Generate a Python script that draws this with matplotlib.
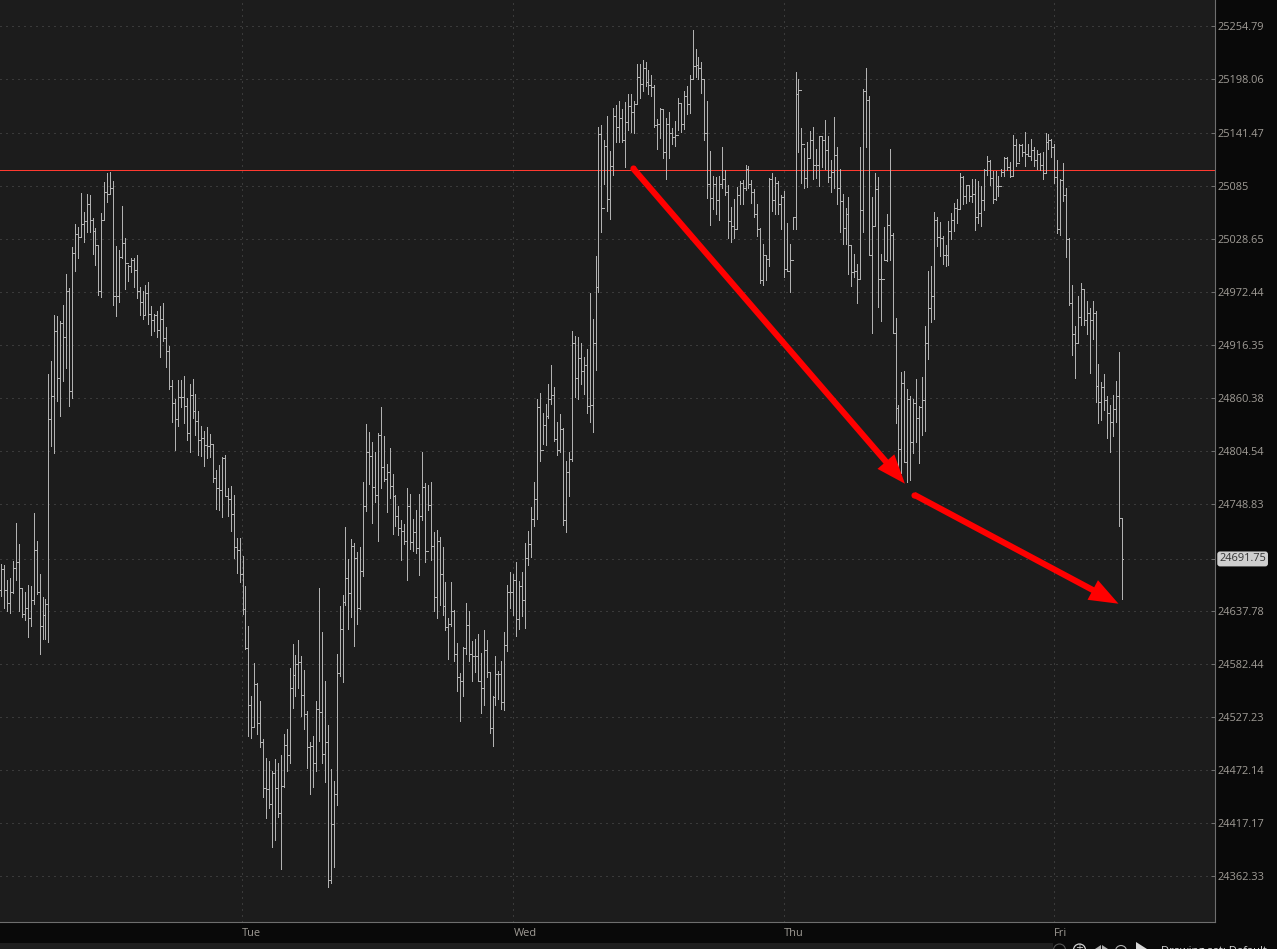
import matplotlib
matplotlib.use("Agg")
import matplotlib.pyplot as plt
from matplotlib.patches import Rectangle, Circle
from matplotlib.ticker import NullLocator

highs = [
24674,24686,24685,24670,24672,24690,24729,24707,24661,24657,24665,24664,24740,24711,24676,24652,24650,
24886,24900,24948,24947,24942,24959,24991,24977,25020,25044,25041,25077,25057,25076,25075,25051,25040,25022,25056,25089,25098,25100,25090,25021,25017,25063,25029,25001,25008,25008,25011,
24978,24973,24980,24983,24958,24949,24952,24958,24961,24935,24915,24879,24859,24880,24879,24884,24861,24875,24881,24865,24847,24831,24826,24830,24823,24812,24785,24790,24799,24801,24766,24768,24759,
24714,24714,24695,24663,24622,24549,24583,24562,24544,24504,24485,24481,24471,24484,24479,24488,24509,24515,24578,24603,24592,24607,
24590,24576,24533,24501,24507,24544,24661,24615,24564,24519,24473,24461,24593,24643,24654,
24725,24692,24713,24708,24699,24704,24772,24833,24825,24814,24804,24824,24851,24821,24791,24808,24781,24759,24747,24732,24728,24766,24760,24734,24743,24760,24804,24771,24769,24772,
24720,24722,24715,24704,24668,24630,24668,24638,24604,24573,24600,24646,24637,24606,24608,24613,24594,24618,24607,24573,24549,24590,24575,24585,24615,24665,24678,24676,24689,24669,24678,24708,24721,24746,24772,
24859,24866,24845,24854,24875,24895,24872,24835,24844,24829,24794,24804,24931,24926,24925,24918,24904,24912,24971,24944,25010,
25147,25149,25134,25159,25122,25168,25171,25175,25167,25174,25183,25183,25175,25214,25215,25219,25217,25208,25203,25192,25156,25168,25167,25157,25163,25146,25154,25178,25173,25186,25191,25203,25251,25230,25222,25217,25198,25175,25122,25095,25094,25095,25126,25102,25086,25062,25071,25084,25090,25091,25107,25106,25091,25081,25066,25040,25023,25011,25093,25098,25094,25090,25075,25079,25045,25023,25052,25206,25198,25146,25125,25131,25143,25147,25124,25138,25138,25155,25138,25112,25158,25126,25103,25076,25061,25073,25022,25013,25002,25126,25188,25210,25180,25073,25098,25094,
25013,25041,25055,25124,25035,24945,24853,24888,24889,24870,24863,24860,24881,24852,24883,24936,24995,25000,25057,25052,25046,25032,25022,25047,25056,25067,25071,25098,25095,25086,25086,25092,25092,25090,25085,25103,25116,25112,25101,25101,25095,25103,25115,25115,25110,25139,25135,25129,25129,25142,25129,25135,25126,25123,25120,25121,25141,25140,25135,25129,25112,25092,25109,25082,25029,24980,24936,24968,24982,24976,24963,24955,24963,24952,24896,24877,24886,24863,24853,24864,24878,24909,24735,
]
lows = [
24633,24653,24641,24637,24635,24656,24670,24637,24631,24628,24610,24622,24645,24655,24593,24608,24608,
24605,24810,24803,24857,24842,24878,24892,24852,24861,24995,25008,25031,25025,25036,25036,25013,25001,24969,24967,25049,25068,25076,24959,24947,24962,25008,24976,24984,24993,24978,24966,
24948,24944,24948,24939,24927,24931,24925,24904,24921,24893,24870,24835,24806,24831,24851,24834,24816,24804,24839,24822,24801,24800,24789,24797,24799,24772,24744,24743,24736,24758,24737,24721,24693,
24677,24668,24634,24598,24507,24505,24517,24509,24496,24444,24422,24433,24393,24400,24423,24370,24455,24471,24479,24536,24549,24557,
24528,24515,24474,24447,24455,24471,24502,24479,24460,24351,24355,24372,24436,24570,24563,
24644,24619,24631,24601,24624,24640,24674,24742,24770,24729,24751,24710,24766,24773,24741,24756,24718,24726,24717,24691,24707,24670,24702,24700,24698,24675,24732,24689,24743,24691,
24637,24630,24644,24633,24618,24587,24622,24585,24554,24523,24549,24593,24585,24565,24574,24564,24531,24540,24569,24510,24497,24540,24546,24535,24534,24596,24641,24633,24611,24619,24632,24620,24685,24694,24726,
24734,24794,24812,24811,24839,24854,24815,24801,24804,24727,24720,24758,24794,24862,24859,24875,24865,24845,24835,24825,24890,
24972,25036,25087,25058,25050,25096,25131,25131,25131,25105,25144,25142,25141,25172,25178,25186,25191,25183,25180,25147,25124,25136,25114,25092,25114,25129,25127,25144,25142,25145,25161,25162,25199,25201,25199,25184,25134,25072,25043,25060,25055,25049,25082,25075,25029,25025,25030,25040,25066,25066,25080,25083,25067,25052,25032,24982,24980,24985,25000,25058,25055,25055,25039,24988,24995,24972,25039,25039,25121,25088,25082,25084,25114,25092,25093,25085,25105,25103,25089,25078,25083,25066,25036,25023,25023,24991,24979,24988,24961,24986,25036,25126,25011,24929,25042,24956,
24942,25006,25005,25006,24929,24834,24788,24782,24793,24772,24774,24803,24814,24792,24822,24826,24902,24941,24944,25021,25010,25002,25000,25001,25028,25037,25045,25060,25066,25067,25069,25068,25038,25045,25042,25059,25096,25086,25067,25070,25074,25095,25095,25102,25094,25096,25106,25111,25117,25106,25116,25112,25106,25103,25102,25092,25098,25124,25115,25088,25035,25033,25069,25009,24959,24906,24882,24918,24937,24937,24928,24887,24923,24856,24834,24837,24848,24818,24804,24821,24835,24726,24650,
]
closes = [
24659,24681,24659,24646,24657,24682,24689,24661,24634,24641,24630,24649,24701,24657,24622,24633,24645,
24838,24863,24931,24882,24940,24925,24973,24868,25014,25034,25031,25044,25047,25066,25049,25037,25022,24973,25049,25078,25076,25083,24968,24968,25009,25024,25003,25000,25006,24996,24973,
24962,24948,24971,24949,24943,24948,24932,24944,24924,24910,24873,24855,24838,24862,24862,24852,24824,24864,24847,24836,24816,24819,24811,24810,24812,24776,24766,24764,24797,24758,24754,24739,24704,
24701,24676,24639,24599,24540,24517,24561,24521,24501,24454,24452,24437,24469,24453,24428,24456,24498,24488,24557,24571,24582,24584,
24550,24530,24496,24497,24479,24535,24532,24489,24501,24358,24416,24447,24573,24619,24647,
24672,24656,24705,24693,24641,24679,24747,24804,24800,24767,24759,24822,24788,24775,24783,24768,24758,24737,24724,24721,24711,24747,24709,24720,24703,24737,24767,24700,24748,24705,
24652,24710,24676,24643,24621,24624,24637,24593,24569,24565,24599,24623,24593,24590,24591,24564,24557,24597,24574,24516,24548,24572,24572,24543,24602,24657,24657,24670,24629,24663,24649,24693,24707,24734,24755,
24851,24806,24832,24842,24859,24864,24817,24806,24828,24732,24783,24796,24918,24882,24903,24889,24895,24852,24853,24919,24978,
25140,25061,25127,25071,25106,25159,25147,25157,25133,25153,25170,25163,25172,25201,25193,25210,25195,25192,25190,25150,25151,25166,25121,25151,25141,25137,25139,25173,25151,25180,25172,25199,25212,25213,25210,25198,25141,25087,25072,25087,25070,25087,25092,25078,25048,25042,25039,25075,25088,25083,25103,25087,25078,25055,25039,24985,25011,25007,25092,25070,25088,25066,25073,24997,24995,25006,25052,25183,25187,25129,25093,25114,25134,25107,25107,25138,25134,25123,25094,25099,25118,25082,25069,25040,25055,25022,24994,24995,24986,25059,25186,25176,25011,25042,25081,24986,
24986,25006,25043,25033,24929,24850,24807,24876,24793,24859,24814,24855,24839,24851,24858,24919,24955,24968,25049,25031,25030,25012,25012,25037,25049,25061,25060,25094,25074,25086,25074,25076,25052,25056,25070,25102,25111,25093,25071,25085,25085,25100,25114,25105,25095,25128,25109,25128,25121,25119,25117,25123,25112,25119,25107,25098,25131,25134,25126,25094,25039,25091,25075,25028,24961,24928,24919,24946,24975,24943,24950,24943,24950,24873,24856,24872,24858,24845,24835,24849,24863,24735,24691.75,
]
opens = closes[:1] + closes[:-1]   # each bar's left tick sits on the previous close in the picture

ytick_values = [25254.79,25198.06,25141.47,25085.00,25028.65,24972.44,24916.35,24860.38,24804.54,
                24748.83,24691.75,24637.78,24582.44,24527.23,24472.14,24417.17,24362.33]
ytick_labels = ["25254.79","25198.06","25141.47","25085","25028.65","24972.44","24916.35","24860.38","24804.54",
                "24748.83","","24637.78","24582.44","24527.23","24472.14","24417.17","24362.33"]
last_price = 24691.75
resistance = 25102
day_labels = ["Tue","Wed","Thu","Fri"]
day_bars = [82.8,175.1,267.1,358.8]
arrow_bars = [(215.6,308.2),(311.3,380.8)]
arrow_prices = [(25104,24770.5),(24759,24645)]

W,H = 1277,949
BG_PLOT,BG_PANEL = "#1c1c1c","#090909"
BAR = "#b2b2b2"; GRID = "#585858"; TXT = "#a09c96"; EDGE = "#6e6e6e"; RED = "#ff0000"

fig = plt.figure(figsize=(W/100,H/100),dpi=100,facecolor=BG_PANEL)
ax = fig.add_axes([0,1-922/H,1215/W,922/H],facecolor=BG_PLOT)
ax.set_yscale("log")

n = len(closes)
px = 1122.7/(n-1)          # pixels per bar
ax.set_xlim(1.6/px,(1214+1.6)/px)
ax.set_ylim(24315.2,25282.9)
xs = list(range(n))

ax.set_axisbelow(True)
ax.yaxis.tick_right()
ax.set_yticks(ytick_values,ytick_labels,fontsize=7.9,color=TXT,fontfamily="Open Sans")
ax.yaxis.set_minor_locator(NullLocator())
ax.set_xticks(day_bars,[""]*4)
ax.tick_params(axis="y",direction="in",length=3,width=0.72,color=EDGE,pad=1.6)
ax.tick_params(axis="x",length=0)
ax.grid(True,axis="both",color=GRID,lw=0.72,ls=(0,(1,5)))
for s in ("top","left"):
    ax.spines[s].set_visible(False)
for s in ("bottom","right"):
    ax.spines[s].set_color(EDGE); ax.spines[s].set_linewidth(0.8)

ax.axhline(resistance,color="#ff3a30",lw=0.72,antialiased=False,zorder=2)
tw = 1/px
ax.vlines(xs,lows,highs,color=BAR,lw=0.72,antialiased=False,zorder=3)
ax.hlines(opens,[x-tw for x in xs],xs,color=BAR,lw=0.72,antialiased=False,zorder=3)
ax.hlines(closes,xs,[x+tw for x in xs],color=BAR,lw=0.72,antialiased=False,zorder=3)

for (x0,x1),(p0,p1) in zip(arrow_bars,arrow_prices):
    ax.annotate("",xy=(x1,p1),xytext=(x0,p0),zorder=5,
                arrowprops=dict(width=4.4,headwidth=16,headlength=21,shrink=0,color=RED,lw=0))
    ax.plot([x0],[p0],"o",color=RED,ms=4.4,mew=0,zorder=5)

trans = ax.get_xaxis_transform()
for b,lab in zip(day_bars,day_labels):
    ax.text(b,-0.0125,lab,transform=trans,color=TXT,fontsize=7.9,fontfamily="Open Sans",ha="left",va="center",clip_on=False)

ax.text(1.0035,last_price,f"{last_price:.2f}",transform=ax.get_yaxis_transform(),fontsize=7.9,color="#333333",
        fontfamily="Open Sans",ha="left",va="center",clip_on=False,
        bbox=dict(boxstyle="round,pad=0.18,rounding_size=0.25",fc="#cfcfcf",ec="none"))

# bottom tool strip (cut off by the screenshot edge, as in the reference)
over = fig.add_axes([0,0,1,1],facecolor="none")
over.set_xlim(0,W); over.set_ylim(H,0); over.axis("off")
over.add_patch(Rectangle((0,943),1053,6,fc="#1f1f1f",ec="none"))
over.add_patch(Circle((1059.5,950),6,fc="none",ec="#555555",lw=0.8))
over.add_patch(Circle((1079.5,950),6,fc="none",ec="#d0d0d0",lw=0.9))
over.text(1079.5,948,"+",color="#d0d0d0",fontsize=7,ha="center",va="center")
over.fill([1095,1101,1101],[949,945,949],fc="#b0b0b0",ec="none")
over.fill([1102,1102,1108],[945,949,949],fc="#b0b0b0",ec="none")
over.add_patch(Circle((1121,951),5.5,fc="none",ec="#b0b0b0",lw=0.8))
over.fill([1136,1136,1147],[942,949,949],fc="#d8d8d8",ec="none")
over.text(1161,951.5,"Drawing set: Default",color="#d8d8d8",fontsize=8,fontfamily="Open Sans",ha="left",va="center",clip_on=True)

fig.savefig("out.png",dpi=100,facecolor=fig.get_facecolor())
